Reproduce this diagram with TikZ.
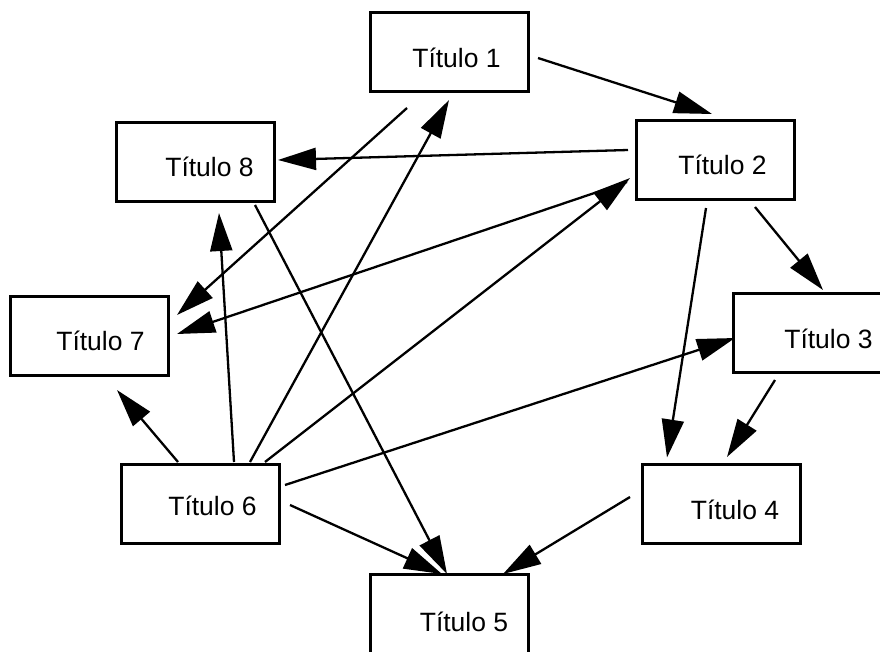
\documentclass[tikz,border=0pt]{standalone}
\usepackage{fontspec}
\setmainfont{Liberation Sans}
\usetikzlibrary{arrows.meta,calc}
\tikzset{
  box/.style={draw=black, line width=3pt, minimum width=158pt, minimum height=79pt, inner sep=0pt},
  lbl/.style={anchor=base, inner sep=0pt, font=\fontsize{26.5pt}{30pt}\selectfont},
  arr/.style={line width=2.3pt, -{Triangle[length=38pt,width=22pt]}}
}
\begin{document}
\begin{tikzpicture}[x=1pt,y=-1pt]
\useasboundingbox (0,0) rectangle (880,651);
\clip (0,0) rectangle (880,651);
% boxes
\node[box] (b1) at (449,52) {};
\node[box] (b2) at (715,159.5) {};
\node[box] (b3) at (812,332.5) {};
\node[box] (b4) at (721.5,503.5) {};
\node[box] (b5) at (449.5,613.5) {};
\node[box] (b6) at (200.5,503.5) {};
\node[box] (b7) at (89,335.5) {};
\node[box] (b8) at (195,162) {};
% titles
\node[lbl] (t1) at (456.5,67) {Título 1};
\node[lbl] (t2) at (722.5,174) {Título 2};
\node[lbl] (t3) at (828.5,348) {Título 3};
\node[lbl] (t4) at (735,519) {Título 4};
\node[lbl] (t5) at (464,631) {Título 5};
\node[lbl] (t6) at (212.5,515) {Título 6};
\node[lbl] (t7) at (100.5,350) {Título 7};
\node[lbl] (t8) at (209.5,176) {Título 8};
% connectors
\draw[arr] ($(b1.center)+(89,6)$) -- ($(b2.center)+(-3,-45.5)$);
\draw[arr] ($(b2.center)+(-87,-9.5)$) -- ($(b8.center)+(83,-2)$);
\draw[arr] ($(b1.center)+(-42,56)$) -- ($(b7.center)+(88,-20.5)$);
\draw[arr] ($(b2.center)+(-88,22.5)$) -- ($(b7.center)+(88,-1.5)$);
\draw[arr] ($(b6.center)+(49.5,-41.5)$) -- ($(b1.center)+(0,48)$);
\draw[arr] ($(b6.center)+(64.5,-41.5)$) -- ($(b2.center)+(-85,18.5)$);
\draw[arr] ($(b2.center)+(40,47.5)$) -- ($(b3.center)+(11,-42.5)$);
\draw[arr] ($(b2.center)+(-9,48.5)$) -- ($(b4.center)+(-54.5,-46)$);
\draw[arr] ($(b3.center)+(-37,47.5)$) -- ($(b4.center)+(5.5,-46.5)$);
\draw[arr] ($(b4.center)+(-91.5,-6.5)$) -- ($(b5.center)+(53.5,-39.5)$);
\draw[arr] ($(b6.center)+(89.5,1.5)$) -- ($(b5.center)+(-7.5,-39.5)$);
\draw[arr] ($(b8.center)+(60,43)$) -- ($(b5.center)+(-2.5,-39.5)$);
\draw[arr] ($(b6.center)+(33.5,-41.5)$) -- ($(b8.center)+(24,51)$);
\draw[arr] ($(b6.center)+(-22.5,-41.5)$) -- ($(b7.center)+(28,54.5)$);
\draw[arr] ($(b6.center)+(84.5,-18.5)$) -- ($(b3.center)+(-77,5.5)$);
\end{tikzpicture}
\end{document}
